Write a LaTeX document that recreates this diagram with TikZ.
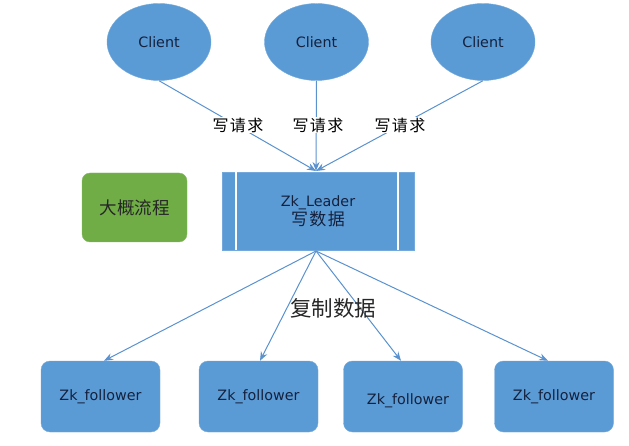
\documentclass[tikz,border=0pt]{standalone}
\usepackage{fontspec}
\setmainfont{DejaVu Sans}
\newfontfamily\cjk{Noto Sans CJK SC}
\newfontfamily\cjkwide[LetterSpace=8]{Noto Sans CJK SC}
\usetikzlibrary{arrows.meta,shapes.geometric}
\definecolor{boxblue}{HTML}{5B9BD5}
\definecolor{edgeblue}{HTML}{5A92CF}
\definecolor{leafgreen}{HTML}{70AD47}
\definecolor{navy}{HTML}{14213D}
\begin{document}
\begin{tikzpicture}[x=1pt,y=-1pt,
  latin/.style={font=\fontsize{14.3}{18}\selectfont, text=navy},
  clientnode/.style={ellipse, fill=boxblue, draw=boxblue!85!white, minimum width=104pt, minimum height=77pt, inner sep=0pt, latin},
  leadernode/.style={rectangle, fill=boxblue, draw=boxblue!85!white, minimum width=192pt, minimum height=78pt, inner sep=0pt, align=center, latin},
  greennode/.style={rectangle, rounded corners=8pt, fill=leafgreen, draw=leafgreen!85!white, minimum width=105pt, minimum height=69pt, inner sep=0pt, font=\cjk\fontsize{17.5}{20}\selectfont, text=black!85},
  follownode/.style={rectangle, rounded corners=9pt, fill=boxblue, draw=boxblue!85!white, minimum width=119pt, minimum height=71pt, inner sep=0pt, latin},
  reqlabel/.style={fill=white, inner sep=1pt, font=\cjkwide\fontsize{16}{18}\selectfont, text=black},
  conn/.style={draw=edgeblue, line width=1pt},
  arr/.style={conn, -{Stealth[length=9pt,width=7pt]}}
]
\useasboundingbox (0,0) rectangle (629,446);

% clients
\node[clientnode] (c1) at (159,42) {Client};
\node[clientnode] (c2) at (316.5,42) {Client};
\node[clientnode] (c3) at (483,42) {Client};

% leader
\node[leadernode] (lead) at (318,211) {Zk\_Leader\\[1pt]{\cjkwide\fontsize{17}{18}\selectfont 写数据}};
\draw[white, line width=2pt] ([xshift=14pt]lead.north west) -- ([xshift=14pt]lead.south west);
\draw[white, line width=2pt] ([xshift=-16pt]lead.north east) -- ([xshift=-16pt]lead.south east);

% green note
\node[greennode] (note) at (134.5,207.5) {大概流程};

% followers
\node[follownode] (f1) at (100.5,396.5) {Zk\_follower};
\node[follownode] (f2) at (258.5,396.5) {Zk\_follower};
\node[follownode, label={[latin, xshift=5pt, yshift=-4.5pt]center:Zk\_follower}] (f3) at (403,396.5) {};
\node[follownode] (f4) at (554,396.5) {Zk\_follower};

% request connectors
\coordinate (top) at (316,171);
\draw[arr] (c1.south) -- (top);
\draw[arr] (c2.south) -- (top);
\draw[arr] (c3.south) -- (top);
\node[reqlabel] (r1) at (238,125) {写请求};
\node[reqlabel] (r2) at (318,125) {写请求};
\node[reqlabel] (r3) at (400,125) {写请求};

% replication connectors
\coordinate (bot) at (316,251);
\draw[arr] (bot) -- ([xshift=3.5pt]f1.north);
\draw[arr] (bot) -- ([xshift=1.5pt]f2.north);
\draw[arr] (bot) -- ([xshift=-2pt]f3.north);
\draw[arr] (bot) -- ([xshift=-6pt]f4.north);

\node[font=\cjk\fontsize{21.5}{23}\selectfont, text=black!85, inner sep=0pt] (copy) at (333,308) {复制数据};
\end{tikzpicture}
\end{document}
